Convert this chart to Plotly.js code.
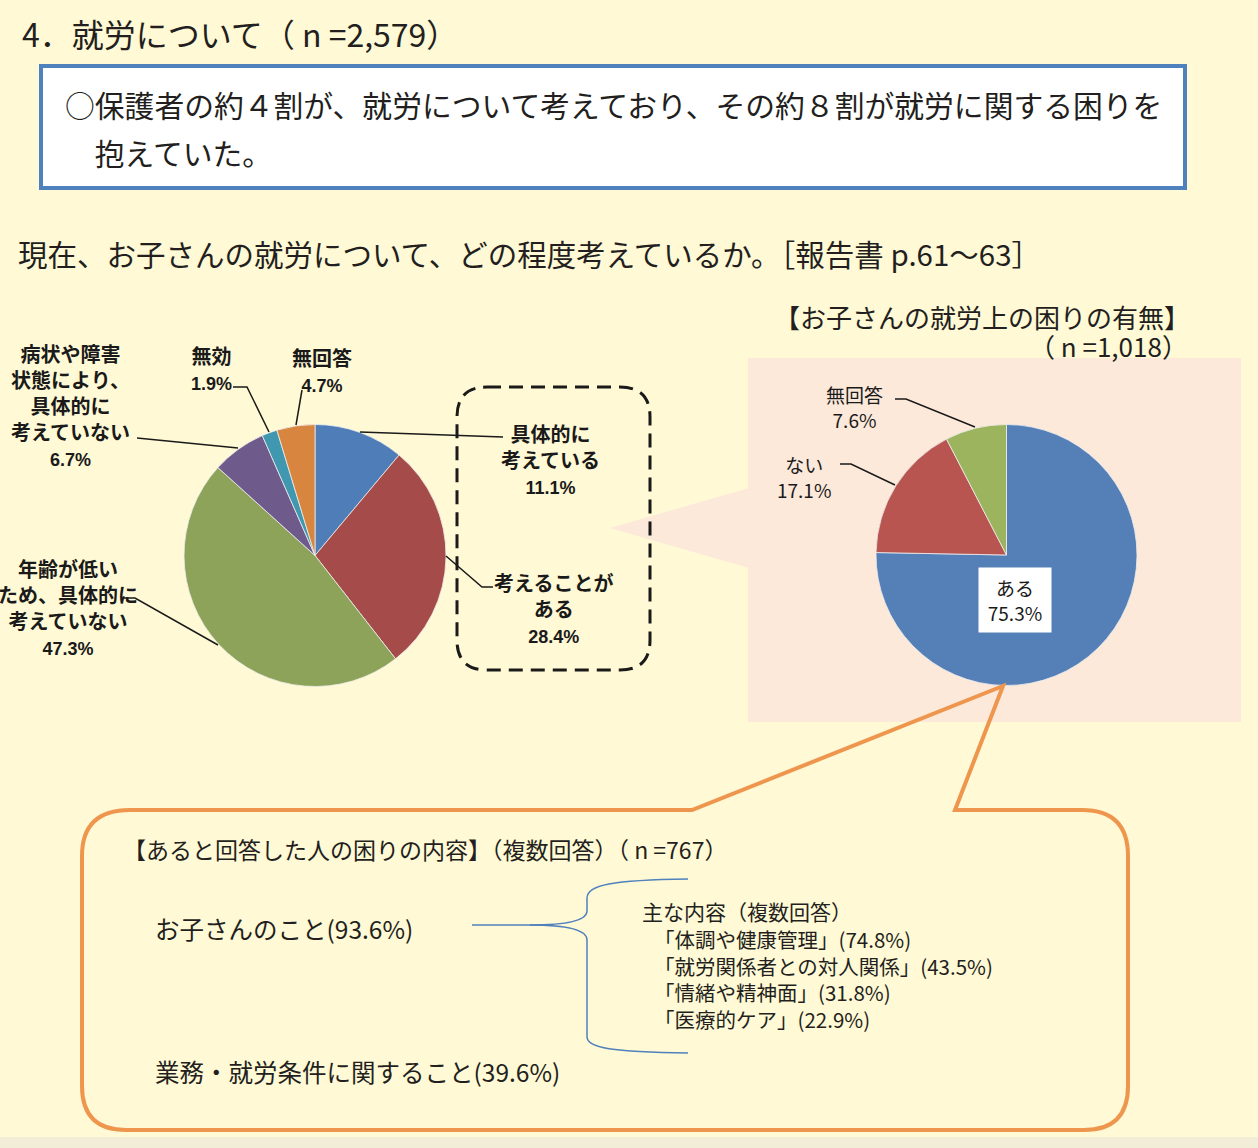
<!DOCTYPE html>
<html>
<head>
<meta charset="utf-8">
<script src="https://cdn.plot.ly/plotly-3.0.1.min.js"></script>
<style>html,body{margin:0;padding:0;background:#FFF9D5;}#chart{width:1258px;height:1148px;}</style>
</head>
<body>
<div id="chart"></div>
<script>
// ---- data ----
const leftLabels = ['具体的に考えている','考えることがある','年齢が低いため、具体的に考えていない','病状や障害状態により、具体的に考えていない','無効','無回答'];
const leftLabelLines = [['具体的に','考えている'],['考えることが','ある'],['年齢が低い','ため、具体的に','考えていない'],['病状や障害','状態により、','具体的に','考えていない'],['無効'],['無回答']];
const leftValues = [11.1, 28.4, 47.3, 6.7, 1.9, 4.7];
const rightLabels = ['ある','ない','無回答'];
const rightValues = [75.3, 17.1, 7.6];
const mainItems = ['お子さんのこと','業務・就労条件に関すること'];
const mainValues = [93.6, 39.6];
const subItems = ['体調や健康管理','就労関係者との対人関係','情緒や精神面','医療的ケア'];
const subValues = [74.8, 43.5, 31.8, 22.9];
const titleText = '4．就労について（ n =2,579）';
const summaryLines = ['○保護者の約４割が、就労について考えており、その約８割が就労に関する困りを','　抱えていた。'];
const questionText = '現在、お子さんの就労について、どの程度考えているか。［報告書 p.61～63］';
const rightTitle = '【お子さんの就労上の困りの有無】';
const rightN = '（ n =1,018）';
const boxTitle = '【あると回答した人の困りの内容】（複数回答）（ n =767）';
const subHeader = '主な内容（複数回答）';

// ---- styles ----
const leftColors = ['#4F7DB8','#A54B4A','#8EA35A','#6E5B8C','#3F97B0','#D8853F'];
const rightColors = ['#5480B7','#B85551','#9BB45D'];
const W = 1258, H = 1148;
const JP = '"Noto Sans CJK JP", "Noto Sans", sans-serif';
const NARROW = '"Liberation Sans Narrow", "Liberation Sans", Arial, sans-serif';
const TXT = '#231F20';

function dom(x0,x1,y0,y1){ return {x:[x0/W,x1/W], y:[1-y1/H,1-y0/H]}; }

const traces = [
  { type:'pie', labels:leftLabels, values:leftValues, sort:false, direction:'clockwise', rotation:0,
    marker:{colors:leftColors, line:{color:'#EDEDED', width:0.8}}, textinfo:'none', hoverinfo:'label+percent',
    domain:dom(184,446,424,687) },
  { type:'pie', labels:rightLabels, values:rightValues, sort:false, direction:'clockwise', rotation:0,
    marker:{colors:rightColors, line:{color:'#EDEDED', width:0.8}}, textinfo:'none', hoverinfo:'label+percent',
    domain:dom(876,1137,424,686) }
];

const shapes = [];
const black = {color:'#1A1A1A', width:1.5};
function path(d, line, fill, layer){ shapes.push({type:'path', xref:'x', yref:'y', path:d, line:line, fillcolor:fill||'rgba(0,0,0,0)', layer:layer||'above'}); }

// summary box
shapes.push({type:'rect', xref:'x', yref:'y', x0:41, y0:66, x1:1185, y1:188, line:{color:'#4F81BD', width:4}, fillcolor:'#FFFFFF', layer:'below'});
// pink panel + pointer
shapes.push({type:'rect', xref:'x', yref:'y', x0:748, y0:358, x1:1241, y1:722, line:{width:0}, fillcolor:'#FCE9DA', layer:'below'});
path('M 749,488 L 610,528 L 749,568 Z', {width:0}, '#FCE9DA', 'below');
// bottom grey band
shapes.push({type:'rect', xref:'x', yref:'y', x0:0, y0:1137, x1:1258, y1:1148, line:{width:0}, fillcolor:'#F1EDD6', layer:'below'});
// dashed rounded box
path('M 487,387 L 620,387 Q 650,387 650,417 L 650,640 Q 650,670 620,670 L 487,670 Q 457,670 457,640 L 457,417 Q 457,387 487,387 Z',
     {color:'#1A1A1A', width:3, dash:'14px,8px'});
// orange callout
path('M 130,810 L 692,810 L 1003,686 L 955,810 L 1082,810 Q 1128,810 1128,856 L 1128,1086 Q 1128,1130 1084,1130 L 126,1130 Q 82,1130 82,1086 L 82,856 Q 82,810 130,810 Z',
     {color:'#EF964E', width:4});
// brace
path('M 688,879 C 612,880 587,885 587,898 L 587,911 C 587,920 568,925 530,925 L 472,925', {color:'#4F81BD', width:1.5});
path('M 530,925 C 568,925 587,930 587,940 L 587,1037 C 587,1048 612,1052 688,1053', {color:'#4F81BD', width:1.5});
// leader lines left pie
path('M 360,432 L 503,437', black);
path('M 446,556 L 482,587 L 493,587', black);
path('M 218,645 L 135,598 L 124,598', black);
path('M 137,438 L 238,448', black);
path('M 233,387 L 247,387 L 269,432', black);
path('M 302,390 L 296,425', black);
// leader lines right pie
path('M 895,399 L 906,399 L 975,427', black);
path('M 840,464 L 851,464 L 895,485', black);

const ann = [];
function txt(t, x, y, size, opts){
  ann.push(Object.assign({text:t, x:x, y:y, xref:'x', yref:'y', showarrow:false, xanchor:'left', yanchor:'middle',
    font:{family:JP, size:size, color:TXT}, align:'left'}, opts||{}));
}
txt(titleText, 20, 33, 32);
txt(summaryLines[0], 63, 104, 29.8);
txt(summaryLines[1], 63, 152, 29.8);
txt(questionText, 16, 253, 29.5);
txt(rightTitle, 1192, 316, 26, {xanchor:'right'});
txt(rightN, 1190, 345, 26, {xanchor:'right'});

// left pie labels
const leftPos = [[550,458],[553,607],[68,606],[70,404],[211,367],[322,369]];
leftValues.forEach((v,i)=>{
  const t = leftLabelLines[i].join('<br>') + '<br><span style="font-family:' + NARROW.replace(/"/g,"'") + ';font-size:18px;font-weight:bold">' + v.toFixed(1) + '%</span>';
  txt(t, leftPos[i][0], leftPos[i][1], 20, {xanchor:'center', align:'center', font:{family:JP, size:20, color:'#1A1A1A', weight:'bold'}});
});
// right pie labels
const rightPos = [[1015,600],[804,477],[854,407]];
rightValues.forEach((v,i)=>{
  const t = rightLabels[i] + '<br>' + v.toFixed(1) + '%';
  const o = {xanchor:'center', align:'center', font:{family:JP, size:19, color:'#1A1A1A'}};
  if(i===0){ Object.assign(o,{bgcolor:'#FFFFFF', width:70, height:62}); }
  txt(t, rightPos[i][0], rightPos[i][1], 19, o);
});

// bottom box
txt(boxTitle, 121, 849, 23);
txt(mainItems[0] + '(' + mainValues[0].toFixed(1) + '%)', 153, 928, 24.5);
txt(mainItems[1] + '(' + mainValues[1].toFixed(1) + '%)', 153, 1071, 24.5);
txt(subHeader, 640, 911, 21);
txt(subItems.map((s,i)=>'「' + s + '」(' + subValues[i].toFixed(1) + '%)').join('<br>'), 652, 979, 20.5, {yanchor:'middle'});

const layout = {
  width:W, height:H, margin:{l:0,r:0,t:0,b:0}, paper_bgcolor:'#FFF9D5', plot_bgcolor:'rgba(0,0,0,0)',
  showlegend:false,
  xaxis:{range:[0,W], visible:false, fixedrange:true},
  yaxis:{range:[H,0], visible:false, fixedrange:true},
  shapes:shapes, annotations:ann
};
Plotly.newPlot('chart', traces, layout, {displayModeBar:false, staticPlot:true});
</script>
</body>
</html>
